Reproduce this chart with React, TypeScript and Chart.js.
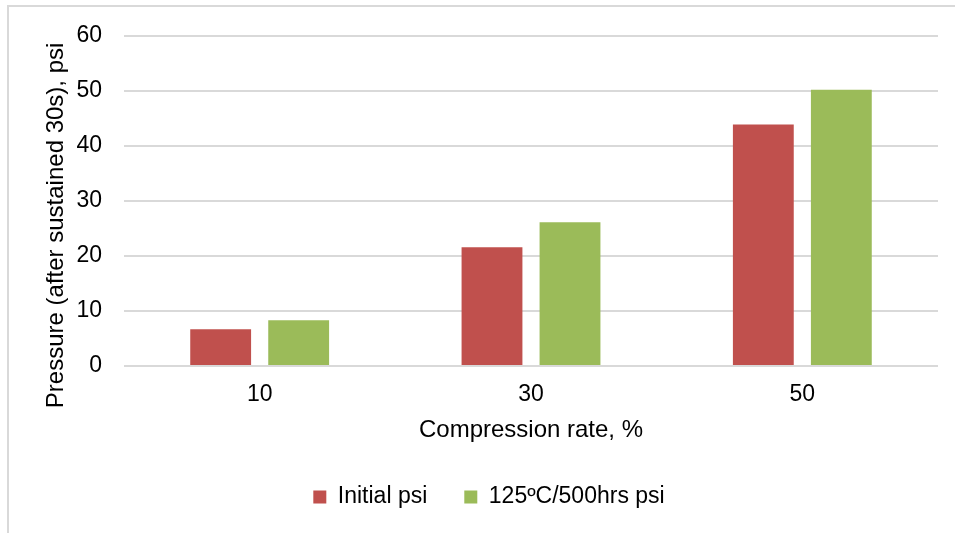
import React, { useEffect, useRef } from "react";
import { Chart, registerables } from "chart.js";

Chart.register(...registerables);

const categories = ["10", "30", "50"];
const initialPsi = [6.7, 21.6, 43.9];
const agedPsi = [8.3, 26.1, 50.2];
const seriesNames = ["Initial psi", "125ºC/500hrs psi"];
const xTitle = "Compression rate, %";
const yTitle = "Pressure (after sustained 30s), psi";

const FONT = "'Liberation Sans', Arial, sans-serif";
const TEXT = "#000000";
const GRID = "#D9D9D9";

const yTitlePlugin = {
  id: "yTitlePlugin",
  afterDraw(chart: any) {
    const ctx = chart.ctx;
    const area = chart.chartArea;
    ctx.save();
    ctx.font = `24px ${FONT}`;
    ctx.fillStyle = TEXT;
    ctx.textAlign = "center";
    ctx.textBaseline = "alphabetic";
    ctx.translate(area.left - 61, (area.top + area.bottom) / 2 + 24.5);
    ctx.rotate(-Math.PI / 2);
    ctx.fillText(yTitle, 0, 0);
    ctx.restore();
  },
};

export default function App() {
  const canvasRef = useRef<HTMLCanvasElement | null>(null);

  useEffect(() => {
    if (!canvasRef.current) return;
    const chart = new Chart(canvasRef.current, {
      type: "bar",
      data: {
        labels: categories,
        datasets: [
          {
            label: seriesNames[0],
            data: initialPsi,
            backgroundColor: "#C0504D",
            borderWidth: 0,
          },
          {
            label: seriesNames[1],
            data: agedPsi,
            backgroundColor: "#9BBB59",
            borderWidth: 0,
          },
        ],
      },
      options: {
        animation: false,
        responsive: false,
        maintainAspectRatio: false,
        devicePixelRatio: 1,
        layout: { padding: { left: 40, right: 17, top: 35, bottom: 14.5 } },
        datasets: {
          bar: { categoryPercentage: 0.575, barPercentage: 0.78 },
        },
        plugins: {
          tooltip: { enabled: false },
          legend: {
            position: "bottom",
            labels: {
              boxWidth: 13,
              boxHeight: 13,
              padding: 37,
              color: TEXT,
              font: { family: FONT, size: 23 },
            },
          },
        },
        scales: {
          x: {
            grid: { display: false, drawTicks: false },
            border: { display: false },
            ticks: {
              color: TEXT,
              font: { family: FONT, size: 23 },
              padding: 14.7,
            },
            title: {
              display: true,
              text: xTitle,
              color: TEXT,
              font: { family: FONT, size: 24 },
              padding: { top: 0, bottom: 4 },
            },
            afterFit: (scale: any) => {
              scale.height = 82.5;
            },
          },
          y: {
            min: 0,
            max: 60,
            grid: { color: GRID, lineWidth: 2, drawTicks: false },
            border: { display: false },
            ticks: {
              stepSize: 10,
              color: TEXT,
              font: { family: FONT, size: 23 },
              padding: 22,
            },
            afterFit: (scale: any) => {
              scale.width = 84;
            },
          },
        },
      },
      plugins: [yTitlePlugin],
    });
    return () => chart.destroy();
  }, []);

  return (
    <div
      style={{
        position: "absolute",
        left: 0,
        top: 0,
        width: 955,
        height: 533,
        background: "#ffffff",
        overflow: "hidden",
      }}
    >
      <div
        style={{
          position: "absolute",
          left: 7,
          top: 5,
          width: 960,
          height: 540,
          borderTop: `2px solid ${GRID}`,
          borderLeft: `2px solid ${GRID}`,
          boxSizing: "border-box",
        }}
      />
      <canvas
        ref={canvasRef}
        width={955}
        height={533}
        style={{ position: "absolute", left: 0, top: 0, width: 955, height: 533 }}
      />
    </div>
  );
}
